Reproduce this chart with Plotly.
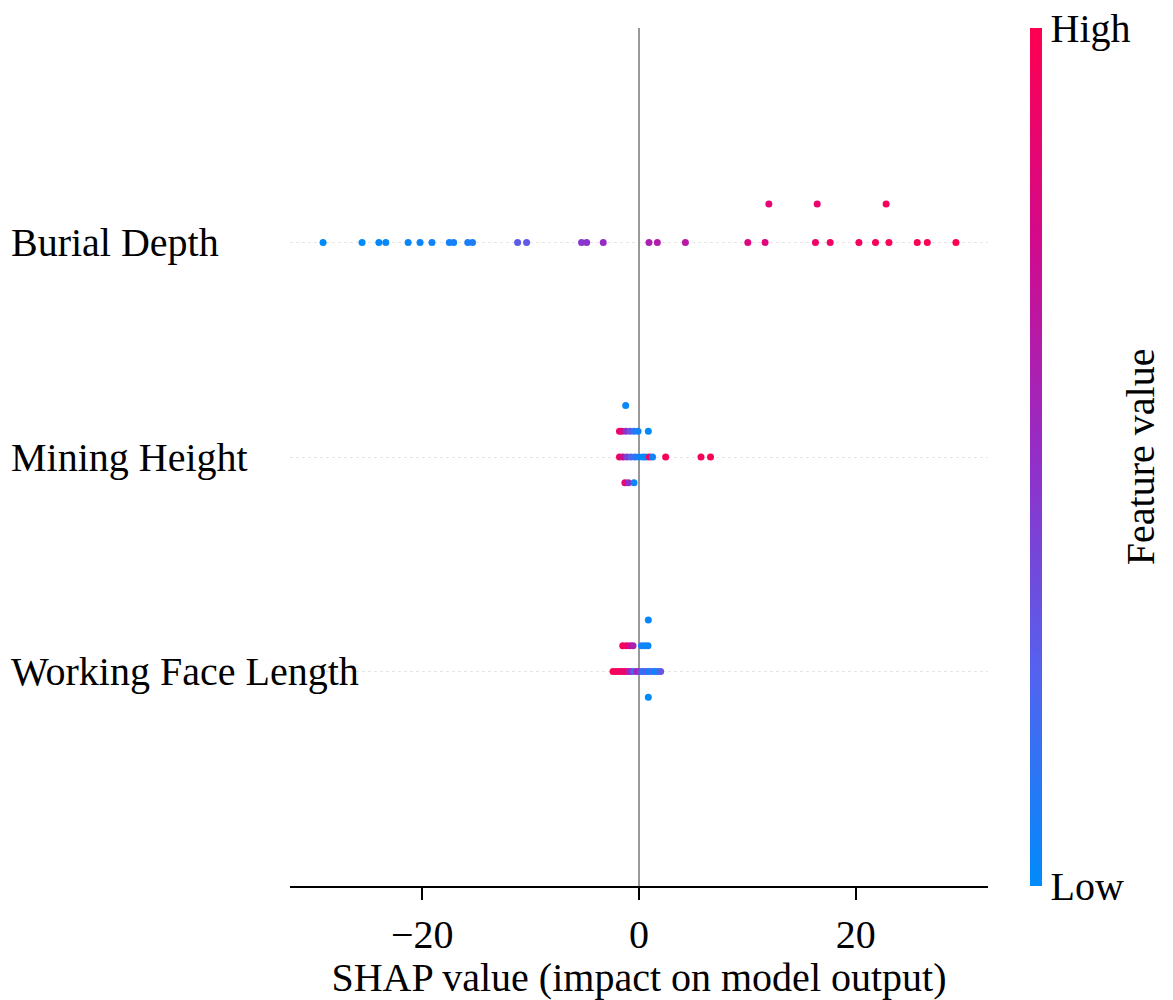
import plotly.graph_objects as go

features = ["Working Face Length", "Mining Height", "Burial Depth"]

# Burial Depth
bd_shap = [-29.15, -25.55, -24.0, -23.36, -21.3, -20.2, -19.1, -17.5, -17.1, -15.8, -15.36,
           -11.2, -10.37, -5.3, -4.83, -3.3, 0.92, 1.69, 4.28, 10.04, 11.63, 16.28, 17.64,
           20.29, 21.82, 23.06, 25.67, 26.6, 29.24,
           11.98, 16.44, 22.8]
bd_feat = [0.0, 0.0, 0.02, 0.02, 0.03, 0.04, 0.05, 0.06, 0.06, 0.07, 0.08,
           0.28, 0.3, 0.45, 0.47, 0.52, 0.6, 0.62, 0.65, 0.8, 0.82, 0.9, 0.92,
           0.94, 0.95, 0.96, 0.97, 0.98, 1.0,
           0.85, 0.88, 0.95]
bd_swarm = [0.0] * 29 + [0.18, 0.18, 0.18]

# Mining Height
mh_shap = [-1.23,
           -1.8, -1.57, -1.2, -0.83, -0.46, -0.09, 0.86,
           -1.8, -1.48, -1.1, -0.74, -0.37, 0.0, 0.37, 0.65, 0.97, 1.25, 2.46, 5.72, 6.6,
           -1.3, -0.98, -0.46]
mh_feat = [0.02,
           0.95, 0.8, 0.5, 0.3, 0.15, 0.05, 0.0,
           0.95, 0.7, 0.4, 0.25, 0.15, 0.05, 0.0, 0.05, 0.95, 0.05, 0.95, 0.95, 0.97,
           0.85, 0.5, 0.05]
mh_swarm = [0.24,
            0.12, 0.12, 0.12, 0.12, 0.12, 0.12, 0.12,
            0.0, 0.0, 0.0, 0.0, 0.0, 0.0, 0.0, 0.0, 0.0, 0.0, 0.0, 0.0, 0.0,
            -0.12, -0.12, -0.12]

# Working Face Length
wf_shap = [0.86,
           -1.5, -1.15, -0.83, -0.55, 0.23, 0.55, 0.83,
           -2.4, -2.13, -1.85, -1.57, -1.3, -1.0, -0.74, -0.46, -0.18, 0.09, 0.37, 0.65,
           0.92, 1.2, 1.48, 1.75, 2.0,
           0.86]
wf_feat = [0.02,
           0.95, 0.9, 0.75, 0.6, 0.05, 0.05, 0.03,
           1.0, 0.95, 0.95, 0.9, 0.9, 0.7, 0.5, 0.2, 0.6, 0.4, 0.1, 0.3,
           0.05, 0.2, 0.05, 0.1, 0.3,
           0.0]
wf_swarm = [0.24,
            0.12, 0.12, 0.12, 0.12, 0.12, 0.12, 0.12,
            0.0, 0.0, 0.0, 0.0, 0.0, 0.0, 0.0, 0.0, 0.0, 0.0, 0.0, 0.0,
            0.0, 0.0, 0.0, 0.0, 0.0,
            -0.12]

x_ticks = [-20, 0, 20]

FONT = "Liberation Serif, Times New Roman, serif"
FS = 40
colorscale = [
    [0.0, "rgb(0,139,251)"],
    [0.25, "rgb(84,98,238)"],
    [0.5, "rgb(147,46,200)"],
    [0.75, "rgb(210,10,140)"],
    [1.0, "rgb(255,0,81)"],
]

fig = go.Figure()
data = [(wf_shap, wf_feat, wf_swarm), (mh_shap, mh_feat, mh_swarm), (bd_shap, bd_feat, bd_swarm)]
for i, (s, f, sw) in enumerate(data):
    fig.add_trace(go.Scatter(
        x=s, y=[i + d for d in sw], mode="markers",
        marker=dict(size=7, color=f, coloraxis="coloraxis", line=dict(width=0)),
        name=features[i], showlegend=False, hoverinfo="x",
    ))

for i, name in enumerate(features):
    fig.add_annotation(text=name, x=-0.4025, xref="paper", y=i, yref="y",
                       xanchor="left", yanchor="middle", showarrow=False,
                       font=dict(family=FONT, size=FS, color="black"))

fig.add_annotation(text="Feature value", x=1.218, xref="paper", y=0.5, yref="paper",
                   xanchor="center", yanchor="middle", textangle=-90, showarrow=False,
                   font=dict(family=FONT, size=FS, color="black"))

fig.update_layout(
    width=1173, height=1000,
    margin=dict(l=290, r=185, t=28, b=114),
    paper_bgcolor="white", plot_bgcolor="white",
    font=dict(family=FONT, size=FS, color="black"),
    coloraxis=dict(
        colorscale=colorscale, cmin=0, cmax=1,
        colorbar=dict(
            x=1.06, xanchor="left", y=0, yanchor="bottom", len=1, lenmode="fraction",
            thickness=12, outlinewidth=0, xpad=0, ypad=0,
            tickvals=[0, 1], ticktext=["Low", "High"], ticks="",
            tickfont=dict(family=FONT, size=FS, color="black"),
        ),
    ),
    xaxis=dict(
        range=[-32.2, 32.2], tickvals=x_ticks, ticktext=["−20", "0", "20"],
        showgrid=False, zeroline=True, zerolinecolor="#999999", zerolinewidth=2,
        showline=True, linecolor="black", linewidth=2,
        ticks="outside", ticklen=12, tickwidth=1.5, tickcolor="black",
        tickfont=dict(family=FONT, size=FS),
        title=dict(text="SHAP value (impact on model output)", standoff=2,
                   font=dict(family=FONT, size=FS)),
    ),
    yaxis=dict(
        range=[-1, 3], tickvals=[0, 1, 2], showticklabels=False,
        showgrid=True, gridcolor="#e6e6e6", griddash="dot", gridwidth=1,
        zeroline=False, showline=False, ticks="",
    ),
)

fig.write_html("out.html")
